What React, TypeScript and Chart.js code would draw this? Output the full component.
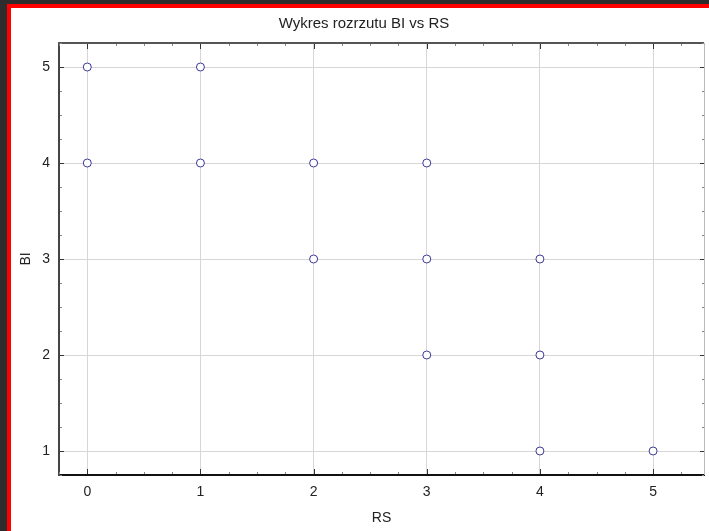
import React, { useEffect, useRef } from 'react';
import { Chart, registerables } from 'chart.js';

Chart.register(...registerables);

// ---- data ----
const rsValues = [0, 1, 0, 1, 2, 3, 2, 3, 4, 3, 4, 4, 5];
const biValues = [5, 5, 4, 4, 4, 4, 3, 3, 3, 2, 2, 1, 1];
const xTickValues = [0, 1, 2, 3, 4, 5];
const yTickValues = [1, 2, 3, 4, 5];
const xRange = [-0.25, 5.45];
const yRange = [0.75, 5.25];
const chartTitle = 'Wykres rozrzutu BI vs RS';
const xTitle = 'RS';
const yTitle = 'BI';

const FONT = '"Liberation Sans", Arial, sans-serif';

const framePlugin = {
  id: 'statFrame',
  afterDraw(chart: any) {
    const ctx = chart.ctx;
    const { left, right, top, bottom } = chart.chartArea;
    const xs = chart.scales.x;
    const ys = chart.scales.y;
    ctx.save();
    // top axis line
    ctx.strokeStyle = '#555';
    ctx.lineWidth = 2;
    ctx.beginPath();
    ctx.moveTo(left - 1, top);
    ctx.lineTo(right, top);
    ctx.stroke();
    // right axis line
    ctx.strokeStyle = '#bbb';
    ctx.lineWidth = 1;
    ctx.beginPath();
    ctx.moveTo(right + 0.5, top);
    ctx.lineTo(right + 0.5, bottom);
    ctx.stroke();
    // ticks (major at integers, minor at quarters), pointing inward
    ctx.lineWidth = 1;
    const step = 0.25;
    for (let v = Math.ceil(xs.min / step) * step; v <= xs.max + 1e-9; v += step) {
      const px = Math.round(xs.getPixelForValue(v)) + 0.5;
      const major = Math.abs(v - Math.round(v)) < 1e-9;
      const len = major ? 5 : 2;
      ctx.strokeStyle = major ? '#333' : '#888';
      ctx.beginPath();
      ctx.moveTo(px, bottom - 1);
      ctx.lineTo(px, bottom - 1 - len);
      ctx.moveTo(px, top + 1);
      ctx.lineTo(px, top + 1 + len);
      ctx.stroke();
    }
    for (let v = Math.ceil(ys.min / step) * step; v <= ys.max + 1e-9; v += step) {
      const py = Math.round(ys.getPixelForValue(v)) + 0.5;
      const major = Math.abs(v - Math.round(v)) < 1e-9;
      const len = major ? 4 : 2;
      ctx.strokeStyle = major ? '#333' : '#888';
      ctx.beginPath();
      ctx.moveTo(left + 1, py);
      ctx.lineTo(left + 1 + len, py);
      ctx.moveTo(right, py);
      ctx.lineTo(right - len, py);
      ctx.stroke();
    }
    // chart title
    ctx.fillStyle = '#222';
    ctx.font = `15px ${FONT}`;
    ctx.textAlign = 'center';
    ctx.textBaseline = 'middle';
    ctx.fillText(chartTitle, 364, 24);
    ctx.restore();
  },
};

export default function App() {
  const canvasRef = useRef<HTMLCanvasElement | null>(null);

  useEffect(() => {
    const canvas = canvasRef.current;
    if (!canvas) return;
    const points = rsValues.map((x, i) => ({ x, y: biValues[i] }));
    const chart = new Chart(canvas, {
      type: 'scatter',
      data: {
        datasets: [
          {
            label: 'BI vs RS',
            data: points,
            pointRadius: 4,
            pointHoverRadius: 4,
            pointStyle: 'circle',
            borderColor: '#3a3a98',
            backgroundColor: '#ffffff',
            borderWidth: 1,
            showLine: false,
          },
        ],
      },
      options: {
        responsive: false,
        animation: false,
        devicePixelRatio: 1,
        layout: { padding: { top: 43, right: 3, left: 0, bottom: 0 } },
        plugins: {
          legend: { display: false },
          tooltip: { enabled: false },
          title: { display: false },
        },
        scales: {
          x: {
            type: 'linear',
            min: xRange[0],
            max: xRange[1],
            afterBuildTicks: (scale: any) => {
              scale.ticks = xTickValues.map((v) => ({ value: v }));
            },
            afterFit: (scale: any) => {
              scale.height = 56;
            },
            ticks: {
              includeBounds: false,
              stepSize: 1,
              padding: 9,
              color: '#222',
              font: { family: FONT, size: 14 },
              callback: (v: any) => String(v),
            },
            grid: { color: '#d6d6d6', lineWidth: 1, drawTicks: false },
            border: { display: true, color: '#111', width: 2 },
            title: {
              display: true,
              text: xTitle,
              color: '#222',
              font: { family: FONT, size: 14 },
              padding: { top: 4, bottom: 4 },
            },
          },
          y: {
            type: 'linear',
            min: yRange[0],
            max: yRange[1],
            afterBuildTicks: (scale: any) => {
              scale.ticks = yTickValues.map((v) => ({ value: v }));
            },
            afterFit: (scale: any) => {
              scale.width = 59;
            },
            ticks: {
              includeBounds: false,
              stepSize: 1,
              padding: 9,
              color: '#222',
              font: { family: FONT, size: 14 },
              callback: (v: any) => String(v),
            },
            grid: { color: '#d6d6d6', lineWidth: 1, drawTicks: false },
            border: { display: true, color: '#444', width: 2 },
            title: {
              display: true,
              text: yTitle,
              color: '#222',
              font: { family: FONT, size: 14 },
              padding: { top: 18, bottom: 0 },
            },
          },
        },
      },
      plugins: [framePlugin],
    } as any);
    return () => chart.destroy();
  }, []);

  return (
    <div
      style={{
        position: 'fixed',
        left: 0,
        top: 0,
        width: 709,
        height: 531,
        background: '#2d2d2d',
        overflow: 'hidden',
      }}
    >
      <div
        style={{
          position: 'absolute',
          left: 7,
          top: 4,
          width: 760,
          height: 600,
          background: '#ffffff',
          border: '4px solid #ff0000',
          boxSizing: 'border-box',
        }}
      />
      <canvas
        ref={canvasRef}
        width={709}
        height={531}
        style={{ position: 'absolute', left: 0, top: 0, width: 709, height: 531 }}
      />
    </div>
  );
}
